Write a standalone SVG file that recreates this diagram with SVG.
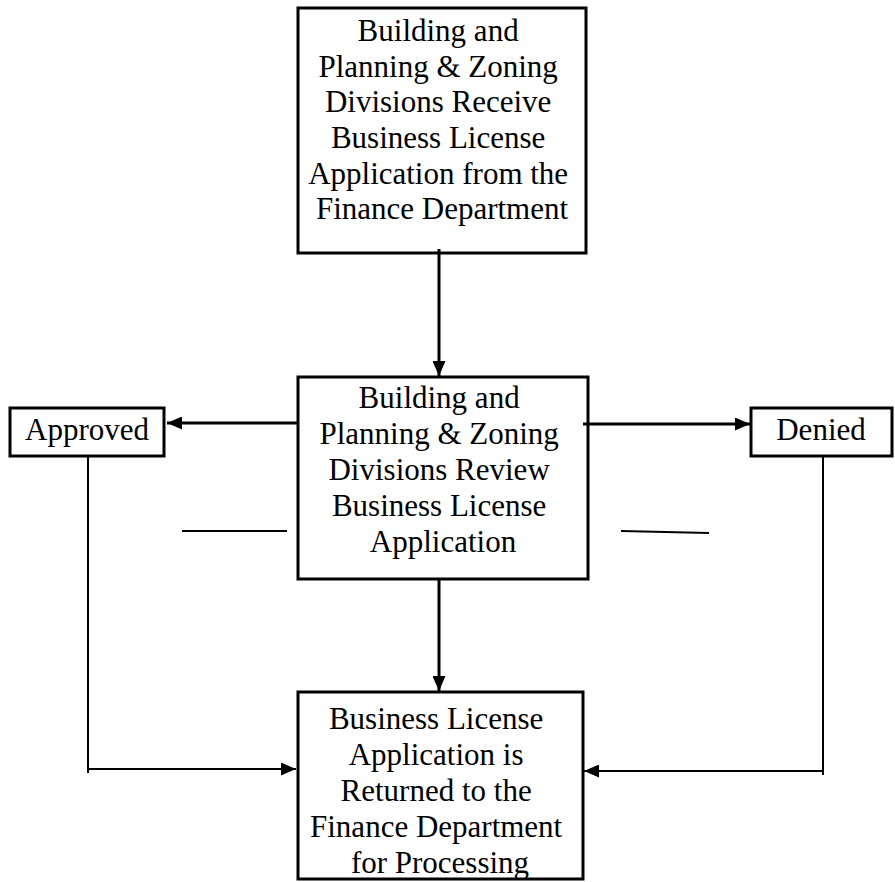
<svg xmlns="http://www.w3.org/2000/svg" width="895" height="882" viewBox="0 0 895 882">
  <style>
    .box { fill: #fff; stroke: #000; stroke-width: 3; }
    .lbl { font-family: "Liberation Serif", "Times New Roman", serif; font-size: 31px; fill: #000; text-anchor: middle; }
    .flow { fill: none; stroke: #000; stroke-width: 3; }
    .ret { fill: none; stroke: #000; stroke-width: 2; }
  </style>
  <defs>
    <marker id="arrow" viewBox="0 0 15 13" refX="15" refY="6.5" markerWidth="15" markerHeight="13" markerUnits="userSpaceOnUse" orient="auto">
      <path d="M0,0 L15,6.5 L0,13 Z" fill="#000"/>
    </marker>
  </defs>

  <g id="receive">
    <rect class="box" x="298" y="8" width="288" height="245"/>
    <text class="lbl">
      <tspan x="442" y="41">Building and</tspan>
      <tspan x="442" y="77">Planning &amp; Zoning</tspan>
      <tspan x="442" y="112">Divisions Receive</tspan>
      <tspan x="442" y="148">Business License</tspan>
      <tspan x="442" y="184">Application from the</tspan>
      <tspan x="442" y="219">Finance Department</tspan>
    </text>
  </g>

  <g id="review">
    <rect class="box" x="298" y="377" width="290" height="202"/>
    <text class="lbl">
      <tspan x="443" y="408">Building and</tspan>
      <tspan x="443" y="444">Planning &amp; Zoning</tspan>
      <tspan x="443" y="480">Divisions Review</tspan>
      <tspan x="443" y="516">Business License</tspan>
      <tspan x="443" y="552">Application</tspan>
    </text>
  </g>

  <g id="approved">
    <rect class="box" x="10" y="408" width="154" height="48"/>
    <text class="lbl" x="87" y="440">Approved</text>
  </g>

  <g id="denied">
    <rect class="box" x="751" y="408" width="141" height="48"/>
    <text class="lbl" x="821" y="440">Denied</text>
  </g>

  <g id="returned">
    <rect class="box" x="298" y="692" width="285" height="187"/>
    <text class="lbl">
      <tspan x="440" y="729">Business License</tspan>
      <tspan x="440" y="765">Application is</tspan>
      <tspan x="440" y="801">Returned to the</tspan>
      <tspan x="440" y="837">Finance Department</tspan>
      <tspan x="440" y="873">for Processing</tspan>
    </text>
  </g>

  <g id="connectors">
    <line class="flow" x1="439" y1="249" x2="439" y2="376" marker-end="url(#arrow)"/>
    <line class="flow" x1="297" y1="423" x2="167" y2="423" marker-end="url(#arrow)"/>
    <line class="flow" x1="583" y1="424" x2="750" y2="424" marker-end="url(#arrow)"/>
    <line class="flow" x1="439" y1="579" x2="439" y2="691" marker-end="url(#arrow)"/>
    <polyline class="ret" points="88,456 88,773"/>
    <line class="ret" x1="87" y1="769" x2="296" y2="769" marker-end="url(#arrow)"/>
    <polyline class="ret" points="823,456 823,775"/>
    <line class="ret" x1="823" y1="771" x2="584" y2="771" marker-end="url(#arrow)"/>
    <line class="ret" x1="182" y1="531" x2="287" y2="531" stroke-width="2.5"/>
    <line class="ret" x1="621" y1="531" x2="709" y2="533" stroke-width="2.5"/>
  </g>
</svg>
